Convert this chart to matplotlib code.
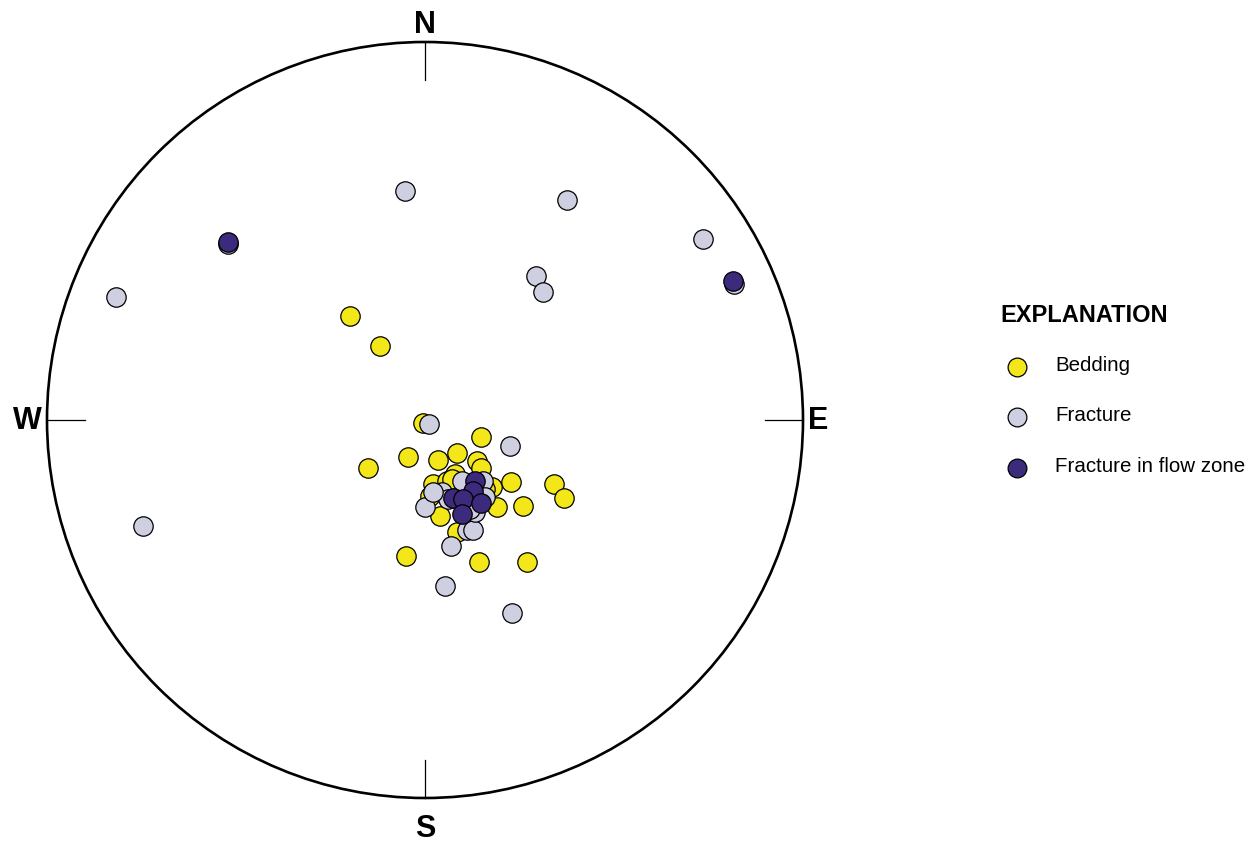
import matplotlib
matplotlib.use("Agg")
import matplotlib.pyplot as plt
from matplotlib.patches import Circle
from matplotlib.lines import Line2D

plt.rcParams["font.family"] = ["Liberation Sans", "DejaVu Sans"]

# pole positions on the stereonet, unit circle (x = east, y = north)
bedding_x = [-0.198, -0.119, -0.005, 0.148, 0.085, -0.045, 0.034, -0.151, 0.138, 0.148,
             0.228, 0.341, 0.368, 0.259, 0.190, -0.050, 0.143, 0.270, 0.021, 0.040,
             0.085, 0.079, 0.058, 0.177, 0.159, 0.071, 0.013]
bedding_y = [0.275, 0.196, -0.008, -0.045, -0.087, -0.098, -0.106, -0.127, -0.108, -0.127,
             -0.164, -0.169, -0.206, -0.228, -0.230, -0.360, -0.376, -0.376, -0.169, -0.254,
             -0.296, -0.143, -0.161, -0.177, -0.183, -0.156, -0.201]

fracture_x = [-0.053, 0.376, 0.735, 0.294, 0.312, -0.817, -0.746, -0.521, 0.817, 0.011,
              0.225, 0.053, 0.230, 0.069, 0.111, 0.127, 0.000, 0.045, 0.098, 0.153,
              0.061, 0.132, 0.159, 0.021, 0.119]
fracture_y = [0.606, 0.582, 0.479, 0.381, 0.339, 0.325, -0.280, 0.466, 0.360, -0.011,
              -0.069, -0.439, -0.511, -0.333, -0.291, -0.291, -0.230, -0.190, -0.161, -0.161,
              -0.209, -0.243, -0.204, -0.190, -0.235]

flow_x = [-0.521, 0.815, 0.132, 0.127, 0.074, 0.101, 0.148, 0.098]
flow_y = [0.471, 0.368, -0.161, -0.188, -0.206, -0.209, -0.220, -0.249]

directions = ["N", "E", "S", "W"]
legend_labels = ["Bedding", "Fracture", "Fracture in flow zone"]

c_bed = "#f3e619"
c_frac = "#cfcfe2"
c_flow = "#3c2a7d"

W, H = 1258, 845
cx, cy, R = 425, 421, 378

fig = plt.figure(figsize=(W / 100, H / 100), dpi=100)
ax = fig.add_axes([0, 0, 1, 1])
ax.set_xlim(-cx / R, (W - cx) / R)
ax.set_ylim((cy - H) / R, cy / R)
ax.set_aspect("equal")
ax.axis("off")

ax.add_patch(Circle((0, 0), 1.0, fill=False, lw=1.9, color="black", zorder=1))

tick = 0.1
dirs = {"N": (0, 1), "E": (1, 0), "S": (0, -1), "W": (-1, 0)}
label_off = {"N": 1.048, "E": 1.04, "S": 1.080, "W": 1.052}
for d in directions:
    dx, dy = dirs[d]
    ax.plot([dx, dx * (1 - tick)], [dy, dy * (1 - tick)], color="black", lw=0.9, zorder=1)
    k = label_off[d]
    ax.text(dx * k, dy * k, d, ha="center", va="center",
            fontsize=22, fontweight="bold")

ms = 195
ax.scatter(bedding_x, bedding_y, s=ms, c=c_bed, edgecolors="black", linewidths=0.9, zorder=3)
ax.scatter(fracture_x, fracture_y, s=ms, c=c_frac, edgecolors="black", linewidths=0.9, zorder=4)
ax.scatter(flow_x, flow_y, s=ms, c=c_flow, edgecolors="black", linewidths=0.9, zorder=5)

# explanation block
fig.text(1000 / W, 1 - 315 / H, "EXPLANATION", fontsize=17, fontweight="bold",
         ha="left", va="center")
colors = [c_bed, c_frac, c_flow]
rows = [368, 418, 469]
for lab, col, py in zip(legend_labels, colors, rows):
    fig.add_artist(Line2D([1017 / W], [1 - py / H], marker="o", markersize=13.5,
                          markerfacecolor=col, markeredgecolor="black",
                          markeredgewidth=0.9, linestyle="none"))
    fig.text(1055 / W, 1 - (py - 2) / H, lab, fontsize=14.8, ha="left", va="center")

fig.savefig("out.png", dpi=100)
